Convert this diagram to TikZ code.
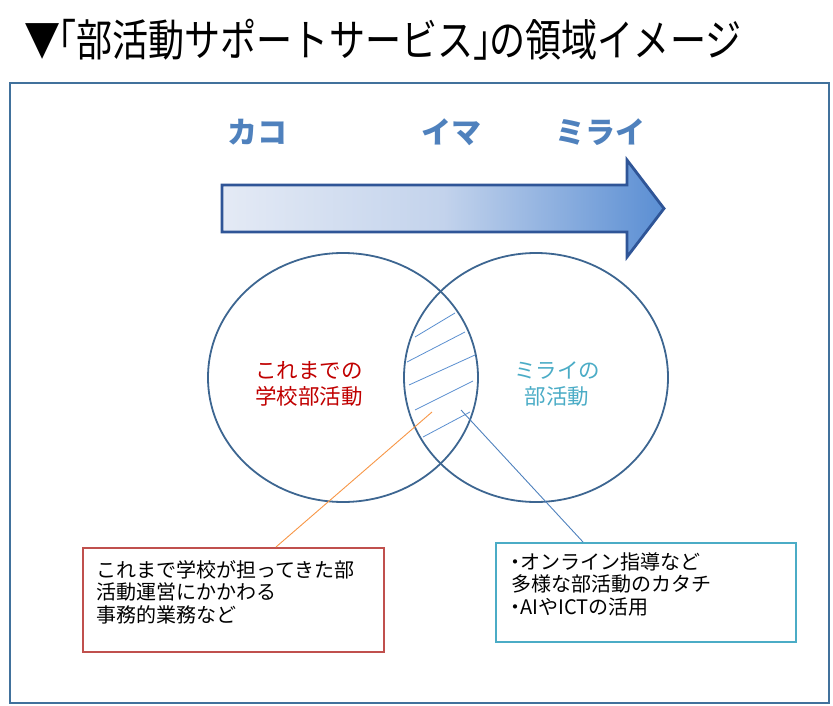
\documentclass[tikz,border=0pt]{standalone}
\usepackage{fontspec}
\newfontfamily\jp{Noto Sans CJK JP}
\usetikzlibrary{calc,shapes.geometric}
\definecolor{framec}{HTML}{41719C}
\definecolor{circc}{HTML}{3D6691}
\definecolor{arrowline}{HTML}{2F5597}
\definecolor{arrowL}{HTML}{E4EAF5}
\definecolor{arrowM}{HTML}{C3D3EC}
\definecolor{arrowR}{HTML}{5A8ED3}
\definecolor{lblue}{HTML}{4F81BD}
\definecolor{dred}{HTML}{C00000}
\definecolor{teal}{HTML}{4BACC6}
\definecolor{boxred}{HTML}{C0504D}
\definecolor{orangel}{HTML}{F79646}
\definecolor{hatchc}{HTML}{5B8FD0}
\tikzset{
  timelbl/.style={font=\jp\bfseries\fontsize{30}{32}\selectfont, text=lblue, inner sep=0pt},
  circlbl/.style={font=\jp\fontsize{21.5}{25.5}\selectfont, align=center, inner sep=0pt},
  venn/.style={draw=circc, line width=1.8pt, ellipse},
  boxtxt/.style={font=\jp\fontsize{20}{22.5}\selectfont, align=left, inner sep=0pt, anchor=north west},
  hatch/.style={draw=hatchc, line width=0.8pt},
}
\newcommand{\nd}{\makebox[0.45em][c]{・}}
\begin{document}
\begin{tikzpicture}[x=1pt,y=-1pt]
\useasboundingbox (0,0) rectangle (833,706);
% title
\node[anchor=west, inner sep=0pt, font=\jp\fontsize{44}{46}\selectfont] (title) at (24,40)
  {\scalebox{0.82}[1]{▼\makebox[0.45em][r]{「}部活動サポートサービス\makebox[0.45em][l]{」}の領域イメージ}};
% frame
\draw[framec, line width=2pt] (10,83) rectangle (829,703);
% arrow
\path[left color=arrowL, right color=arrowR, middle color=arrowM, draw=arrowline, line width=2.8pt, line join=miter]
  (222,185) -- (627,185) -- (627,160) -- (664,208.5) -- (627,257) -- (627,232) -- (222,232) -- cycle;
\node[timelbl] (kako) at (257,132) {カコ};
\node[timelbl] (ima) at (451,132) {イマ};
\node[timelbl] (mirai) at (600,132) {ミライ};
% venn
\node[venn, minimum width=270pt, minimum height=249pt] (lc) at (343,377.5) {};
\node[venn, minimum width=264pt, minimum height=249pt] (rc) at (536,377.5) {};
% hatch
\draw[hatch] (415,337) -- (455,313);
\draw[hatch] (407,362) -- (465,332);
\draw[hatch] (409,385) -- (475,355);
\draw[hatch] (415,410) -- (473,381);
\draw[hatch] (423,437) -- (470,412);
\node[circlbl, text=dred] (lt) at (309,384) {これまでの\\学校部活動};
\node[circlbl, text=teal] (rt) at (557,384) {ミライの\\部活動};
% boxes
\node[draw=boxred, line width=1.8pt, minimum width=301pt, minimum height=104pt, anchor=north west, inner sep=0pt] (rb) at (82,547) {};
\node[boxtxt] (rbt) at (96,560) {これまで学校が担ってきた部\\活動運営にかかわる\\事務的業務など};
\node[draw=teal, line width=1.8pt, minimum width=300pt, minimum height=99pt, anchor=north west, inner sep=0pt] (tb) at (495,542) {};
\node[boxtxt] (tbt) at (511,552) {\nd オンライン指導など\\多様な部活動のカタチ\\\nd AIやICTの活用};
% connectors
\coordinate (po) at (432,412);
\coordinate (pb) at (461,410);
\draw[orangel, line width=0.9pt] (po) -- (rb.north -| 276,0);
\draw[lblue, line width=0.9pt] (pb) -- (tb.north -| 583,0);
\end{tikzpicture}
\end{document}
